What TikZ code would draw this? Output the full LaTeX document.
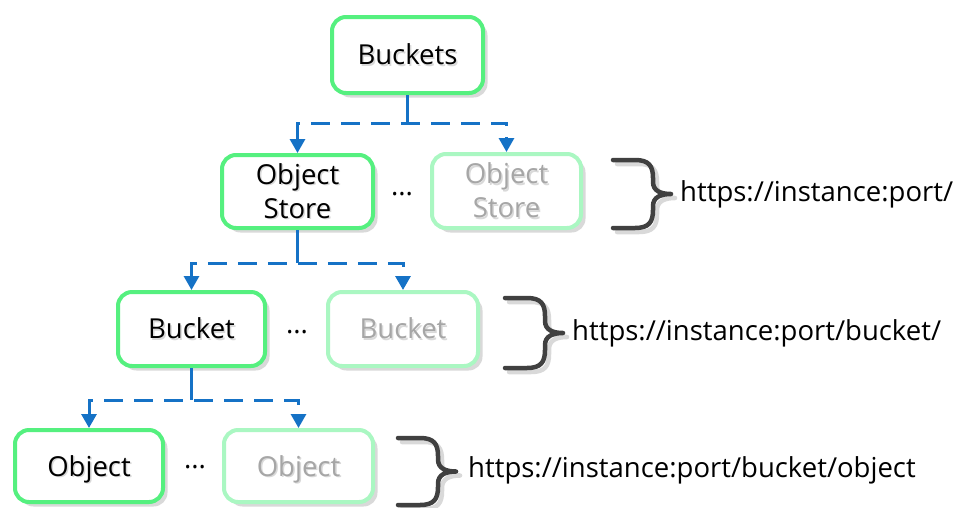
\documentclass[tikz,border=0pt]{standalone}
\usepackage{fontspec}
\setmainfont{Open Sans}
\usetikzlibrary{arrows.meta,shadows,calc}
\definecolor{boxgreen}{HTML}{55F07F}
\definecolor{fadegreen}{HTML}{AAF7C2}
\definecolor{arrowblue}{HTML}{1572C6}
\definecolor{bracegray}{HTML}{404040}
\definecolor{fadetext}{HTML}{A6A6A6}
\definecolor{txtshadow}{HTML}{D9D9D9}
\newcommand{\shtxt}[1]{\leavevmode\rlap{\hspace{1.5pt}\raisebox{-1.5pt}{\textcolor{txtshadow}{#1}}}#1}
\tikzset{
  box/.style={draw=boxgreen, line width=4pt, rounded corners=14pt, fill=white,
    drop shadow={shadow xshift=4.5pt, shadow yshift=-4.5pt, fill=black!15, opacity=1},
    align=center, text=black, inner sep=0pt},
  fadebox/.style={box, draw=fadegreen, text=fadetext},
  conn/.style={draw=arrowblue, line width=3pt, dash pattern=on 19pt off 11pt,
    {Triangle[length=14pt,width=15pt]}-{Triangle[length=14pt,width=15pt]}},
  stem/.style={draw=arrowblue, line width=3pt},
  bracestyle/.style={draw=bracegray, line width=4.5pt, line cap=round, line join=round},
  braceshadow/.style={draw=black!15, line width=4.5pt, line cap=round, line join=round},
  url/.style={anchor=west, inner sep=0pt, text=black},
  dots/.style={inner sep=0pt, text=black}
}
\newcommand{\bracepath}[4]{% left x, top y, bottom y, style
  \draw[#4] (#1,#2) -- ({#1+22},#2) .. controls ({#1+36},#2) and ({#1+40},{#2+6}) .. ({#1+40},{#2+18})
    -- ({#1+40},{(#2+#3)/2-12}) .. controls ({#1+40},{(#2+#3)/2-3}) and ({#1+48},{(#2+#3)/2}) .. ({#1+58},{(#2+#3)/2})
    .. controls ({#1+48},{(#2+#3)/2}) and ({#1+40},{(#2+#3)/2+3}) .. ({#1+40},{(#2+#3)/2+12})
    -- ({#1+40},{#3-18}) .. controls ({#1+40},{#3-6}) and ({#1+36},#3) .. ({#1+22},#3) -- (#1,#3);}
\begin{document}
\begin{tikzpicture}[x=1pt,y=-1pt, font=\fontsize{27.5}{34}\selectfont]
\useasboundingbox (0,0) rectangle (960,507);
% boxes
\node[box, minimum width=151pt, minimum height=76pt] (bk) at (407.5,55) {\shtxt{Buckets}};
\node[box, minimum width=151pt, minimum height=73pt] (os) at (297.5,191.5) {\shtxt{Object}\\\shtxt{Store}};
\node[fadebox, minimum width=149pt, minimum height=74pt] (os2) at (506.5,191) {\shtxt{Object}\\\shtxt{Store}};
\node[box, minimum width=147pt, minimum height=74pt] (b) at (191.5,329) {\shtxt{Bucket}};
\node[fadebox, minimum width=150pt, minimum height=74pt] (b2) at (403,329) {\shtxt{Bucket}};
\node[box, minimum width=148pt, minimum height=72pt, text depth=0pt] (o) at (89,466) {\shtxt{Object}};
\node[fadebox, minimum width=149pt, minimum height=72pt, text depth=0pt] (o2) at (298.5,466) {\shtxt{Object}};
% dots
\node[dots] (d1) at (402,194) {...};
\node[dots] (d2) at (297,332) {...};
\node[dots] (d3) at (195,467) {...};
% connectors
\coordinate (j1) at ($(bk.south)+(0,28)$);
\coordinate (j2) at ($(os.south)+(0,33)$);
\coordinate (j3) at ($(b.south)+(0,32)$);
\draw[stem] (bk.south) -- (j1);
\draw[conn] (os.north) |- (j1) -| (os2.north);
\draw[stem] (os.south) -- (j2);
\draw[conn] (b.north) |- (j2) -| (b2.north);
\draw[stem] (b.south) -- (j3);
\draw[conn] (o.north) |- (j3) -| (o2.north);
% braces
\bracepath{615}{162}{230}{braceshadow, xshift=2pt, yshift=-2pt}
\bracepath{613}{160}{228}{bracestyle}
\bracepath{507}{300}{370}{braceshadow, xshift=2pt, yshift=-2pt}
\bracepath{505}{298}{368}{bracestyle}
\bracepath{400}{440}{507}{braceshadow, xshift=2pt, yshift=-2pt}
\bracepath{398}{438}{505}{bracestyle}
% urls
\node[url] (u1) at (680,194) {https://instance:port/};
\node[url] (u2) at (572,333) {https://instance:port/bucket/};
\node[url] (u3) at (468,470) {https://instance:port/bucket/object};
\end{tikzpicture}
\end{document}
